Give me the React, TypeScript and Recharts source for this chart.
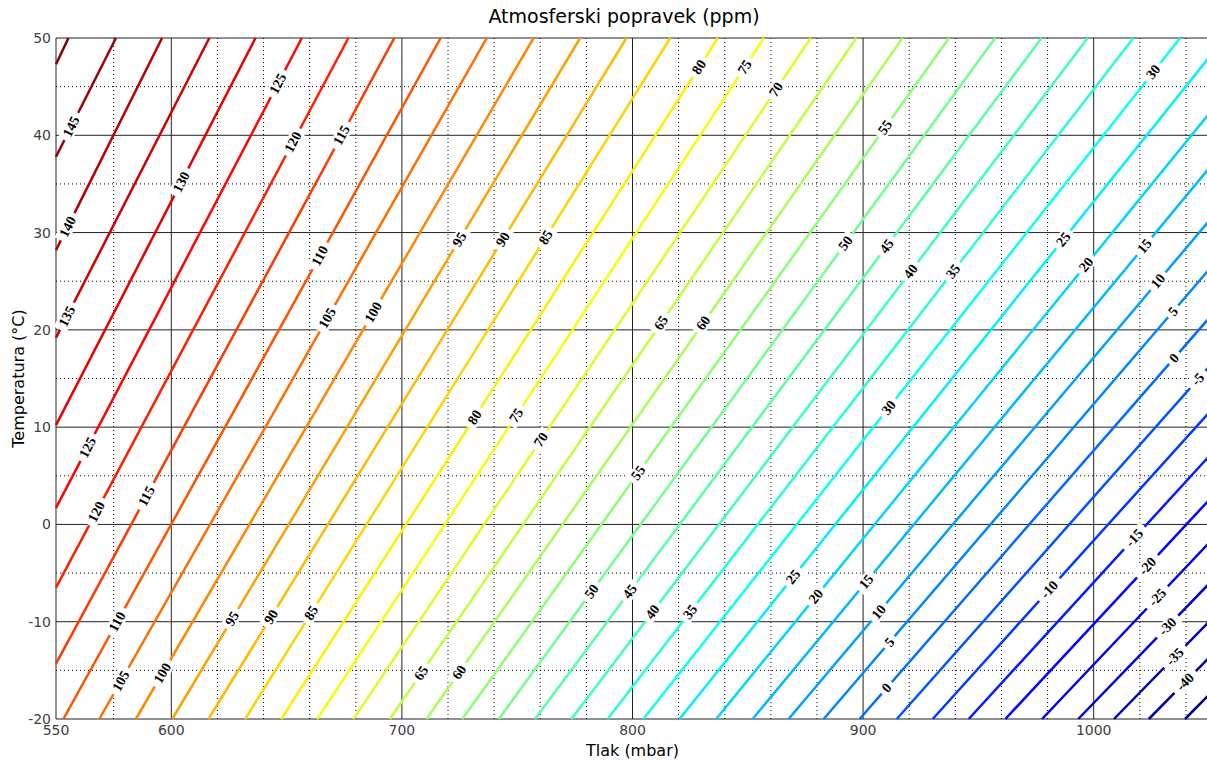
import { LineChart, Line, XAxis, YAxis, CartesianGrid } from 'recharts'

// contour levels (ppm), each one is a straight line across the plot
const levels = [150, 145, 140, 135, 130, 125, 120, 115, 110, 105, 100, 95, 90, 85, 80, 75, 70, 65, 60, 55, 50, 45, 40, 35, 30, 25, 20, 15, 10, 5, 0, -5, -10, -15, -20, -25, -30, -35, -40, -45]

// where each contour enters the plot (pressure mbar, temperature C)
const startP = [550, 550, 550, 550, 550, 550, 550, 550, 553.2, 568.8, 584.6, 600.4, 616.1, 632.0, 647.7, 663.3, 679.0, 694.8, 710.7, 726.2, 742.0, 757.7, 773.5, 789.2, 804.7, 820.4, 836.3, 852.1, 867.7, 882.9, 898.5, 914.6, 930.2, 945.8, 961.7, 977.6, 993.3, 1008.8, 1023.9, 1039.6]
const startT = [47.3, 37.8, 28.2, 19.2, 10.2, 1.7, -6.5, -14.3, -20, -20, -20, -20, -20, -20, -20, -20, -20, -20, -20, -20, -20, -20, -20, -20, -20, -20, -20, -20, -20, -20, -20, -20, -20, -20, -20, -20, -20, -20, -20, -20]

// where each contour leaves the plot
const endP = [555.4, 576.0, 596.0, 616.5, 636.5, 656.6, 676.8, 696.7, 716.8, 736.8, 757.1, 777.3, 797.4, 816.4, 837.0, 857.0, 877.3, 897.1, 917.1, 937.3, 957.3, 977.4, 997.4, 1017.2, 1037.5, 1050, 1050, 1050, 1050, 1050, 1050, 1050, 1050, 1050, 1050, 1050, 1050, 1050, 1050, 1050]
const endT = [50, 50, 50, 50, 50, 50, 50, 50, 50, 50, 50, 50, 50, 50, 50, 50, 50, 50, 50, 50, 50, 50, 50, 50, 50, 48.0, 42.2, 36.6, 31.2, 26.2, 21.2, 16.2, 11.5, 7.0, 2.5, -1.9, -6.1, -10.0, -13.7, -17.5]

// inline contour labels: level and temperature where the label sits
const labelLevel = [145, 140, 135, 130, 125, 125, 120, 120, 115, 115, 110, 110, 105, 105, 100, 100, 95, 95, 90, 90, 85, 85, 80, 80, 75, 75, 70, 70, 65, 65, 60, 60, 55, 55, 50, 50, 45, 45, 40, 40, 35, 35, 30, 30, 25, 25, 20, 20, 15, 15, 10, 10, 5, 5, 0, 0, -5, -10, -15, -20, -25, -30, -35, -40]
const labelT = [40.9, 30.6, 21.4, 35.2, 45.3, 7.9, 39.3, 1.3, 40.0, 2.9, 27.6, -10.0, 21.2, -16.1, 21.8, -15.3, 29.3, -9.7, 29.3, -9.5, 29.5, -9.1, 47.0, 11.0, 47.0, 11.2, 44.7, 8.7, 20.7, -15.3, 20.7, -15.2, 40.8, 5.3, 28.9, -6.9, 28.6, -6.9, 26.0, -9.0, 26.0, -9.0, 46.5, 12.0, 29.3, -5.4, 26.7, -7.4, 28.6, -5.9, 25.0, -9.0, 21.9, -12.1, 17.1, -16.8, 14.9, -6.7, -1.4, -4.3, -7.5, -10.5, -13.6, -16.2]

const xTicks = [550, 600, 700, 800, 900, 1000]
const yTicks = [-20, -10, 0, 10, 20, 30, 40, 50]
const xMajor = [550, 600, 700, 800, 900, 1000, 1050]
const xMinor = [575, 620, 640, 660, 680, 720, 740, 760, 780, 820, 840, 860, 880, 920, 940, 960, 980, 1020, 1040]
const yMinor = [-15, -5, 5, 15, 25, 35, 45]

const minLevel = Math.min(...levels)
const maxLevel = Math.max(...levels)

// matlab jet colormap
function jet(v: number) {
  const t = (v - minLevel) / (maxLevel - minLevel)
  const c = (x: number) => Math.round(255 * Math.max(0, Math.min(1, 1.5 - Math.abs(x))))
  return `rgb(${c(4 * t - 3)},${c(4 * t - 2)},${c(4 * t - 1)})`
}

const font = 'DejaVu Sans'
const tickStyle = { fontSize: 14, fill: '#404040', fontFamily: font }

function labelRenderer(i: number) {
  return (props: any) => {
    const { index, points } = props
    if (index !== 0 || !points || points.length < 2) return <g key={`lbl-${i}-${index}`} />
    const a = points[0]
    const b = points[points.length - 1]
    const t0 = startT[i]
    const t1 = endT[i]
    const ang = (Math.atan2(b.y - a.y, b.x - a.x) * 180) / Math.PI
    const mine = labelLevel.map((lv, k) => ({ lv, t: labelT[k] })).filter((l) => l.lv === levels[i])
    return (
      <g key={`lbl-${i}-${index}`}>
        {mine.map((l, k) => {
          const f = (l.t - t0) / (t1 - t0)
          const x = a.x + f * (b.x - a.x)
          const y = a.y + f * (b.y - a.y)
          const txt = String(l.lv)
          const w = txt.length * 7.5 + 8
          return (
            <g key={k} transform={`translate(${x},${y}) rotate(${ang})`}>
              <rect x={-w / 2} y={-7} width={w} height={14} fill="#fff" />
              <text
                x={0}
                y={0}
                textAnchor="middle"
                dominantBaseline="central"
                fontSize={14}
                fontWeight="bold"
                fontFamily="Liberation Serif"
                fill="#000"
              >
                {txt}
              </text>
            </g>
          )
        })}
      </g>
    )
  }
}

function YLabel(props: any) {
  const vb = props.viewBox || { x: 6, y: 38, width: 50, height: 681 }
  const cx = vb.x + 12
  const cy = vb.y + vb.height / 2
  return (
    <text
      x={cx}
      y={cy}
      transform={`rotate(-90, ${cx}, ${cy})`}
      textAnchor="middle"
      dominantBaseline="central"
      fontSize={16}
      fontFamily={font}
      fill="#000"
    >
      Temperatura (°C)
    </text>
  )
}

export default function App() {
  return (
    <div style={{ position: 'absolute', left: 0, top: 0, width: 1207, height: 760, overflow: 'hidden', background: '#fff' }}>
      <div
        style={{
          position: 'absolute',
          left: 56,
          width: 1136,
          top: 5,
          textAlign: 'center',
          fontFamily: font,
          fontSize: 19,
          color: '#000',
        }}
      >
        Atmosferski popravek (ppm)
      </div>
      <LineChart width={1225} height={760} margin={{ top: 38, right: 16, bottom: 0, left: 6 }}>
        <CartesianGrid verticalValues={xMinor} horizontalValues={yMinor} stroke="#000" strokeDasharray="1 3" />
        <CartesianGrid verticalValues={xMajor} horizontalValues={yTicks} stroke="#222" strokeWidth={1} />
        <XAxis
          type="number"
          dataKey="p"
          domain={[550, 1050]}
          ticks={xTicks}
          tickLine={false}
          axisLine={false}
          tickSize={0}
          tickMargin={6}
          height={41}
          tick={tickStyle}
          label={{ value: 'Tlak (mbar)', position: 'insideBottom', offset: 4, style: { fontSize: 16, fill: '#000', fontFamily: font } }}
        />
        <YAxis
          type="number"
          dataKey="t"
          domain={[-20, 50]}
          ticks={yTicks}
          tickLine={false}
          axisLine={false}
          tickSize={0}
          tickMargin={5}
          width={50}
          tick={tickStyle}
          label={<YLabel />}
        />
        {levels.map((lv, i) => (
          <Line
            key={lv}
            data={[
              { p: startP[i], t: startT[i] },
              { p: endP[i], t: endT[i] },
            ]}
            dataKey="t"
            stroke={jet(lv)}
            strokeWidth={2.5}
            dot={labelRenderer(i)}
            activeDot={false}
            isAnimationActive={false}
          />
        ))}
      </LineChart>
    </div>
  )
}
